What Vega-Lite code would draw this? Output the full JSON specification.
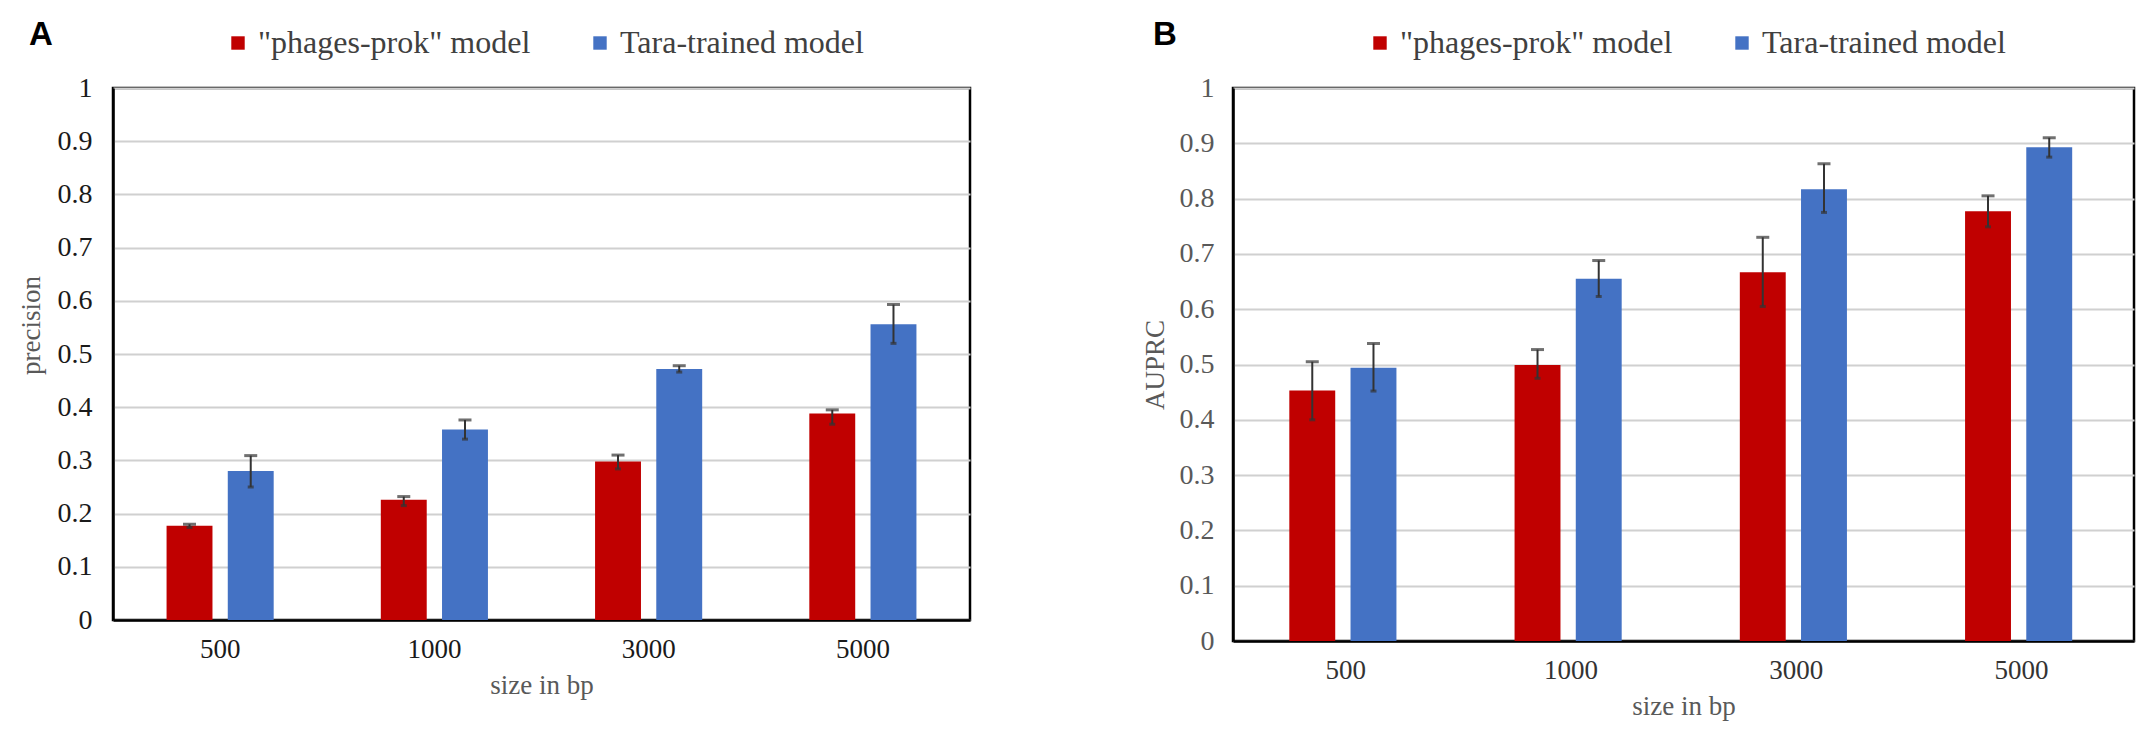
{
  "$schema": "https://vega.github.io/schema/vega-lite/v6.json",
  "background": "white",
  "padding": {"left": 15, "top": 17, "right": 5, "bottom": 5},
  "bounds": "flush",
  "spacing": 263,
  "datasets": {
    "precision": [
      {"size": "500", "model": "\"phages-prok\" model", "value": 0.177, "lo": 0.174, "hi": 0.180},
      {"size": "500", "model": "Tara-trained model", "value": 0.280, "lo": 0.250, "hi": 0.309},
      {"size": "1000", "model": "\"phages-prok\" model", "value": 0.226, "lo": 0.215, "hi": 0.232},
      {"size": "1000", "model": "Tara-trained model", "value": 0.358, "lo": 0.340, "hi": 0.376},
      {"size": "3000", "model": "\"phages-prok\" model", "value": 0.298, "lo": 0.284, "hi": 0.310},
      {"size": "3000", "model": "Tara-trained model", "value": 0.472, "lo": 0.466, "hi": 0.478},
      {"size": "5000", "model": "\"phages-prok\" model", "value": 0.388, "lo": 0.368, "hi": 0.395},
      {"size": "5000", "model": "Tara-trained model", "value": 0.556, "lo": 0.520, "hi": 0.593}
    ],
    "auprc": [
      {"size": "500", "model": "\"phages-prok\" model", "value": 0.453, "lo": 0.400, "hi": 0.505},
      {"size": "500", "model": "Tara-trained model", "value": 0.494, "lo": 0.452, "hi": 0.538},
      {"size": "1000", "model": "\"phages-prok\" model", "value": 0.499, "lo": 0.475, "hi": 0.527},
      {"size": "1000", "model": "Tara-trained model", "value": 0.655, "lo": 0.623, "hi": 0.688},
      {"size": "3000", "model": "\"phages-prok\" model", "value": 0.667, "lo": 0.605, "hi": 0.730},
      {"size": "3000", "model": "Tara-trained model", "value": 0.817, "lo": 0.775, "hi": 0.863},
      {"size": "5000", "model": "\"phages-prok\" model", "value": 0.777, "lo": 0.749, "hi": 0.805},
      {"size": "5000", "model": "Tara-trained model", "value": 0.893, "lo": 0.875, "hi": 0.910}
    ]
  },
  "config": {
    "view": {"stroke": "black", "strokeWidth": 2.5},
    "axis": {
      "ticks": false,
      "domainColor": "black",
      "domainWidth": 2.5,
      "gridColor": "#d0d0d0",
      "gridWidth": 2,
      "labelFont": "Liberation Serif",
      "titleFont": "Liberation Serif",
      "titleFontWeight": "normal",
      "titleFontSize": 27,
      "titleColor": "#595959"
    },
    "legend": {"labelLimit": 500},
    "title": {"font": "Liberation Sans", "fontSize": 33, "fontWeight": "bold", "color": "black", "anchor": "start", "frame": "group"}
  },
  "resolve": {"legend": {"color": "independent"}},
  "hconcat": [
    {
      "width": 857,
      "height": 532,
      "title": {"text": "A", "dx": -84, "dy": 25, "offset": 0},
      "data": {"name": "precision"},
      "encoding": {
        "x": {
          "field": "size", "type": "ordinal", "sort": ["500", "1000", "3000", "5000"],
          "scale": {"paddingInner": 0.5, "paddingOuter": 0.25},
          "axis": {"title": "size in bp", "labelAngle": 0, "labelFontSize": 27, "labelColor": "#1a1a1a", "labelPadding": 16, "titlePadding": 10}
        },
        "xOffset": {
          "field": "model", "type": "nominal", "sort": ["\"phages-prok\" model", "Tara-trained model"],
          "scale": {"paddingInner": 0.25, "paddingOuter": 0}
        }
      },
      "layer": [
        {
          "mark": {"type": "bar"},
          "encoding": {
            "y": {
              "field": "value", "type": "quantitative", "title": "precision", "scale": {"domain": [0, 1]},
              "axis": {"values": [0, 0.1, 0.2, 0.3, 0.4, 0.5, 0.6, 0.7, 0.8, 0.9, 1], "format": "~g", "labelFontSize": 28, "labelColor": "#1a1a1a", "labelPadding": 21, "titlePadding": 12, "titleY": 237}
            },
            "color": {
              "field": "model", "type": "nominal",
              "scale": {"domain": ["\"phages-prok\" model", "Tara-trained model"], "range": ["#c00000", "#4472c4"]},
              "legend": {"orient": "none", "legendX": 109, "legendY": -61, "direction": "horizontal", "title": null, "symbolType": "square", "symbolSize": 180, "symbolStrokeWidth": 0, "labelFont": "Liberation Serif", "labelFontSize": 32, "labelColor": "#404040", "labelOffset": 4, "columnPadding": 53, "padding": 0}
            }
          }
        },
        {
          "mark": {"type": "rule", "color": "#333333", "strokeWidth": 2},
          "encoding": {"y": {"field": "lo", "type": "quantitative", "title": "precision"}, "y2": {"field": "hi"}}
        },
        {
          "mark": {"type": "tick", "color": "#333333", "thickness": 3, "size": 13},
          "encoding": {"y": {"field": "hi", "type": "quantitative", "title": "precision"}}
        },
        {
          "mark": {"type": "tick", "color": "#333333", "thickness": 3, "size": 6},
          "encoding": {"y": {"field": "lo", "type": "quantitative", "title": "precision"}}
        }
      ]
    },
    {
      "width": 901,
      "height": 553,
      "title": {"text": "B", "dx": -80, "dy": 25, "offset": 0},
      "data": {"name": "auprc"},
      "encoding": {
        "x": {
          "field": "size", "type": "ordinal", "sort": ["500", "1000", "3000", "5000"],
          "scale": {"paddingInner": 0.5, "paddingOuter": 0.25},
          "axis": {"title": "size in bp", "labelAngle": 0, "labelFontSize": 27, "labelColor": "#333333", "labelPadding": 16, "titlePadding": 10}
        },
        "xOffset": {
          "field": "model", "type": "nominal", "sort": ["\"phages-prok\" model", "Tara-trained model"],
          "scale": {"paddingInner": 0.22, "paddingOuter": 0}
        }
      },
      "layer": [
        {
          "mark": {"type": "bar"},
          "encoding": {
            "y": {
              "field": "value", "type": "quantitative", "title": "AUPRC", "scale": {"domain": [0, 1]},
              "axis": {"values": [0, 0.1, 0.2, 0.3, 0.4, 0.5, 0.6, 0.7, 0.8, 0.9, 1], "format": "~g", "labelFontSize": 28, "labelColor": "#595959", "labelPadding": 19, "titlePadding": 10}
            },
            "color": {
              "field": "model", "type": "nominal",
              "scale": {"domain": ["\"phages-prok\" model", "Tara-trained model"], "range": ["#c00000", "#4472c4"]},
              "legend": {"orient": "none", "legendX": 131, "legendY": -61, "direction": "horizontal", "title": null, "symbolType": "square", "symbolSize": 180, "symbolStrokeWidth": 0, "labelFont": "Liberation Serif", "labelFontSize": 32, "labelColor": "#404040", "labelOffset": 4, "columnPadding": 53, "padding": 0}
            }
          }
        },
        {
          "mark": {"type": "rule", "color": "#333333", "strokeWidth": 2},
          "encoding": {"y": {"field": "lo", "type": "quantitative", "title": "AUPRC"}, "y2": {"field": "hi"}}
        },
        {
          "mark": {"type": "tick", "color": "#333333", "thickness": 3, "size": 13},
          "encoding": {"y": {"field": "hi", "type": "quantitative", "title": "AUPRC"}}
        },
        {
          "mark": {"type": "tick", "color": "#333333", "thickness": 3, "size": 6},
          "encoding": {"y": {"field": "lo", "type": "quantitative", "title": "AUPRC"}}
        }
      ]
    }
  ]
}
